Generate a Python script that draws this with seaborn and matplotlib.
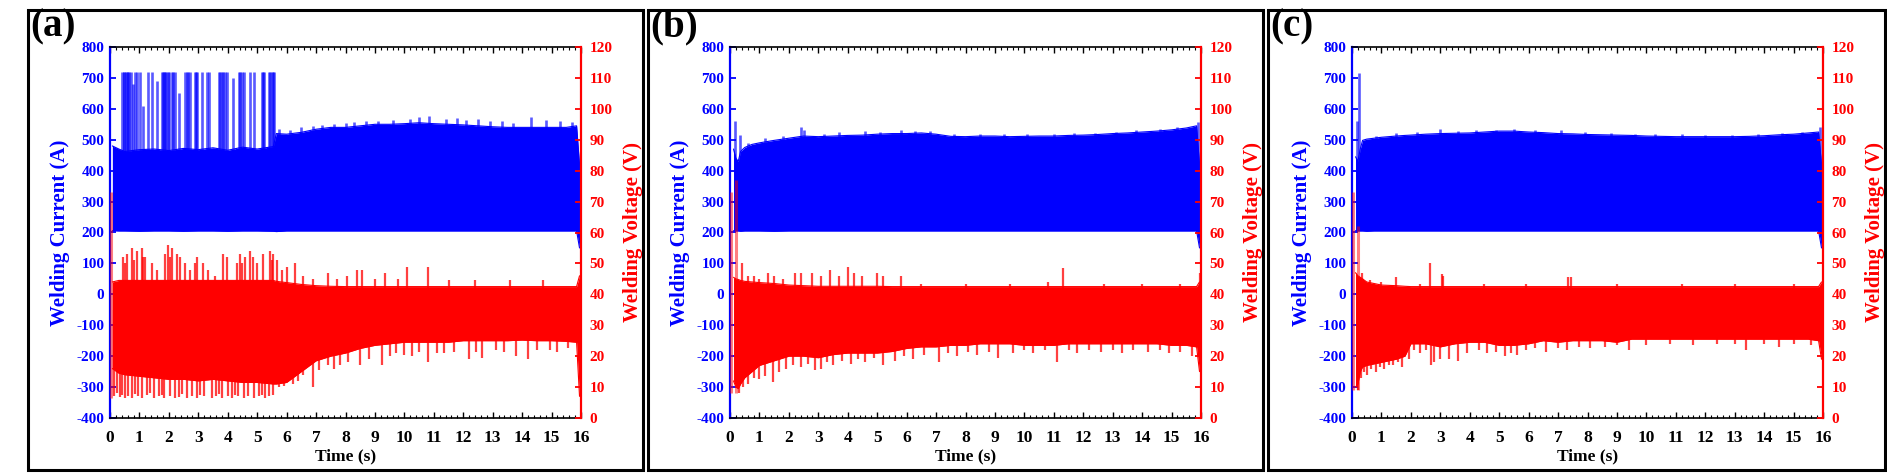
import numpy as np
import matplotlib
matplotlib.use("Agg")
import matplotlib.pyplot as plt
import seaborn as sns
from matplotlib.ticker import MultipleLocator
from matplotlib.patches import Rectangle

# ---------------- data ----------------
# envelope knots (time in s), current in A, voltage in V
a_time = [0.08, 0.3, 0.5, 1.0, 1.5, 2.0, 2.5, 3.0, 3.5, 4.0, 4.5, 5.0, 5.55, 5.65, 6.0,
          6.5, 7.0, 7.5, 8.0, 8.5, 9.0, 9.5, 10.0, 10.5, 11.0, 11.5, 12.0, 12.5, 13.0, 13.5,
          14.0, 14.5, 15.0, 15.5, 15.85, 15.95]
a_cur_hi = [480, 470, 462, 468, 470, 465, 472, 468, 474, 466, 476, 470, 478, 520, 518,
            524, 534, 540, 540, 545, 550, 550, 552, 555, 552, 550, 548, 545, 542, 540,
            540, 540, 540, 540, 545, 420]
a_cur_lo = [206, 205, 205, 204, 205, 205, 204, 205, 205, 204, 205, 205, 204, 203, 205,
            205, 205, 205, 205, 205, 205, 205, 205, 205, 205, 205, 205, 205, 205, 205,
            205, 205, 205, 205, 205, 150]
a_volt_hi = [44.0, 44.5, 44.5, 44.5, 44.5, 44.5, 44.5, 44.5, 44.5, 44.5, 44.5, 44.5, 44.5, 44.2, 43.8,
             43.2, 42.8, 42.6, 42.5, 42.5, 42.5, 42.5, 42.5, 42.5, 42.5, 42.5, 42.5, 42.5, 42.5, 42.5,
             42.5, 42.5, 42.5, 42.5, 42.5, 46.0]
a_volt_lo = [16.0, 14.5, 14.0, 13.5, 13.0, 12.5, 12.5, 12.0, 12.5, 12.0, 11.5, 11.5, 11.0, 11.0, 11.5,
             15.0, 18.5, 20.0, 21.0, 22.5, 23.5, 24.0, 24.5, 24.5, 24.5, 24.5, 25.0, 25.0, 25.0, 25.0,
             25.2, 25.0, 25.0, 24.8, 24.5, 7.0]
a_cur_spk_t = [0.42, 0.46, 0.49, 0.53, 0.57, 0.62, 0.66, 0.72, 0.78, 0.85, 0.93, 1.02, 1.13,
               1.30, 1.42, 1.59, 1.76, 1.80, 1.83, 1.87, 1.90, 1.96, 2.02, 2.09, 2.15, 2.21,
               2.36, 2.55, 2.60, 2.66, 2.72, 2.89, 2.93, 2.97, 3.11, 3.31, 3.37, 3.71, 3.75,
               3.79, 3.85, 3.91, 3.96, 4.19, 4.39, 4.43, 4.47, 4.55, 4.76, 4.89, 5.15, 5.19,
               5.23, 5.40, 5.45, 5.49, 5.53, 5.57,
               5.75, 6.1, 6.5, 6.9, 7.2, 7.6, 8.0, 8.3, 8.7, 9.1, 9.6, 10.2, 10.5, 10.85, 11.4,
               11.8, 12.1, 12.5, 12.9, 13.3, 13.7, 14.3, 14.8, 15.3, 15.7]
a_cur_spk_v = [720, 720, 720, 720, 720, 720, 720, 720, 680, 720, 720, 720, 610,
               720, 720, 690, 720, 720, 720, 720, 720, 720, 720, 720, 720, 720,
               650, 720, 720, 720, 720, 720, 720, 720, 720, 720, 720, 720, 720,
               720, 720, 720, 720, 700, 720, 720, 720, 720, 720, 720, 720, 720,
               720, 720, 720, 720, 720, 720,
               535, 532, 540, 545, 548, 552, 553, 556, 560, 562, 565, 568, 572, 578, 568,
               570, 565, 566, 560, 562, 555, 572, 565, 560, 558]
a_vup_t = [0.45, 0.50, 0.57, 0.74, 0.80, 0.91, 1.08, 1.13, 1.19, 1.42, 1.59, 1.87, 1.98, 2.04,
           2.10, 2.26, 2.38, 2.55, 2.72, 2.89, 2.94, 3.17, 3.34, 3.57, 3.85, 3.96, 4.30, 4.42,
           4.50, 4.59, 4.76, 4.87, 4.98, 5.21, 5.43, 5.50, 5.55, 5.66, 5.83, 6.0, 6.3, 6.57,
           6.9, 7.42, 7.7, 8.04, 8.38, 8.55, 9.0, 9.34, 9.8, 10.1, 10.8, 11.5, 12.4, 13.6, 14.7]
a_vup_v = [52, 50, 53, 55, 51, 54, 55, 52, 52, 50, 48, 53, 56, 52,
           55, 53, 52, 50, 48, 50, 52, 50, 48, 46, 53, 52, 50, 53,
           50, 52, 54, 52, 50, 53, 54, 51, 53, 51, 48, 49, 50, 46,
           45, 47, 45, 46, 48, 48, 45, 47, 45, 49, 49, 44.5, 44.5, 44.5, 44.5]
a_vdn_t = [0.15, 0.25, 0.35, 0.42, 0.5, 0.62, 0.75, 0.85, 0.95, 1.1, 1.25, 1.35, 1.5, 1.65,
           1.75, 1.85, 2.05, 2.2, 2.35, 2.45, 2.6, 2.8, 2.95, 3.05, 3.2, 3.45, 3.6, 3.7, 3.8,
           4.0, 4.15, 4.25, 4.35, 4.55, 4.7, 4.9, 5.05, 5.15, 5.25, 5.4, 5.55, 5.75, 5.9,
           6.2, 6.4, 6.55, 6.9, 7.1, 7.4, 7.6, 7.8, 8.1, 8.5, 8.8, 9.25, 9.5, 9.7, 10.0,
           10.25, 10.5, 10.8, 11.1, 11.35, 11.7, 12.2, 12.45, 12.65, 13.1, 13.4, 13.8, 14.2,
           14.5, 14.95, 15.2, 15.55]
a_vdn_v = [7.0, 8.0, 6.8, 7.5, 6.5, 7.2, 6.6, 7.8, 7.0, 6.5, 7.3, 8.0, 6.6, 7.0,
           7.6, 6.5, 7.1, 6.6, 6.9, 7.8, 6.5, 7.0, 6.6, 7.5, 7.2, 6.5, 7.0, 7.8, 6.6,
           7.1, 6.5, 7.5, 7.0, 6.6, 7.2, 6.5, 7.0, 7.6, 6.6, 7.0, 7.5, 10.0, 10.5,
           11.0, 12.0, 14.0, 10.0, 15.5, 17.0, 16.0, 17.0, 18.0, 17.0, 19.0, 17.0, 20.0, 21.0, 20.5,
           20.0, 21.5, 18.0, 21.0, 21.0, 21.5, 19.0, 21.5, 19.5, 22.0, 21.5, 20.0, 19.0,
           22.0, 22.0, 21.5, 22.5]
a_v0_t = [0.05]
a_v0_lo = [6.5]
a_v0_hi = [73.0]

b_time = [0.12, 0.2, 0.28, 0.36, 0.5, 0.75, 1.0, 1.5, 2.0, 2.5, 3.0, 3.5, 4.0, 4.5, 5.0,
          5.5, 6.0, 6.5, 7.0, 7.5, 8.0, 8.5, 9.0, 9.5, 10.0, 10.5, 11.0, 11.5, 12.0, 12.5,
          13.0, 13.5, 14.0, 14.5, 15.0, 15.5, 15.85, 15.95]
b_cur_hi = [470, 440, 430, 462, 475, 485, 490, 498, 505, 512, 510, 512, 514, 515, 518,
            520, 520, 522, 518, 511, 510, 512, 512, 510, 511, 512, 512, 514, 515, 517,
            520, 522, 525, 528, 532, 538, 545, 420]
b_cur_lo = [206, 205, 205, 204, 205, 205, 205, 204, 205, 205, 205, 205, 205, 205, 205,
            205, 205, 205, 205, 205, 205, 205, 205, 205, 205, 205, 205, 205, 205, 205,
            205, 205, 205, 205, 205, 205, 205, 150]
b_volt_hi = [45.5, 45.0, 44.8, 44.5, 44.2, 44.0, 43.8, 43.5, 43.0, 42.8, 42.6, 42.6, 42.6, 42.6, 42.6,
             42.5, 42.5, 42.5, 42.5, 42.5, 42.5, 42.5, 42.5, 42.5, 42.5, 42.5, 42.5, 42.5, 42.5, 42.5,
             42.5, 42.5, 42.5, 42.5, 42.5, 42.5, 42.5, 44.0]
b_volt_lo = [12.0, 10.0, 9.5, 11.0, 13.0, 15.0, 17.0, 18.5, 20.0, 20.0, 19.5, 20.5, 21.0, 21.0, 21.0,
             21.5, 22.5, 23.0, 23.0, 23.5, 23.5, 24.0, 24.0, 24.0, 23.5, 23.5, 23.5, 24.0, 24.0, 24.0,
             24.0, 24.0, 24.0, 24.0, 23.5, 23.5, 23.0, 15.0]
b_cur_spk_t = [0.17, 0.33, 0.6, 1.2, 1.8, 2.4, 2.5, 3.2, 3.7, 4.6, 5.1, 5.8, 6.3, 6.8, 7.6,
               8.5, 9.3, 10.1, 11.0, 11.7, 12.4, 13.1, 13.8, 14.6, 15.2, 15.9]
b_cur_spk_v = [560, 515, 490, 505, 512, 540, 530, 520, 525, 528, 526, 530, 528, 528, 518,
               520, 520, 518, 520, 522, 522, 526, 530, 535, 540, 558]
b_vup_t = [0.4, 0.6, 0.8, 1.0, 1.3, 1.5, 1.8, 2.2, 2.4, 2.8, 3.1, 3.4, 3.7, 4.0, 4.2, 4.5,
           5.0, 5.2, 5.8, 6.5, 8.0, 9.5, 10.8, 11.3, 12.7, 14.0, 15.3, 15.95]
b_vup_v = [50, 46, 46, 45, 47, 46, 45, 47, 47, 47, 46, 48, 46, 49, 47, 46,
           47, 46, 46, 43.5, 43.5, 43.5, 44, 48.5, 43.5, 43.5, 43.5, 47]
b_vdn_t = [0.3, 0.45, 0.6, 0.8, 1.0, 1.2, 1.45, 1.65, 1.9, 2.15, 2.4, 2.65, 2.9, 3.1, 3.3,
           3.5, 3.8, 4.1, 4.35, 4.6, 4.9, 5.2, 5.6, 5.9, 6.2, 6.6, 7.1, 7.4, 7.7, 8.1, 8.4,
           8.8, 9.1, 9.6, 10.0, 10.3, 10.7, 11.1, 11.5, 11.8, 12.2, 12.6, 13.0, 13.3, 13.7,
           14.2, 14.6, 14.9, 15.3, 15.7]
b_vdn_v = [8, 10, 11, 13, 12.5, 13.5, 11.5, 15, 16, 17, 16.5, 17.5, 15.5, 16, 18,
           17, 18.5, 17.5, 19, 18, 19.5, 17, 18.5, 20, 19, 20.5, 18, 21, 20, 21.5, 20.5,
           21.5, 19.5, 21, 22, 21, 22, 18, 22, 21, 22, 21.5, 22, 21, 22,
           21.5, 22, 21, 21.5, 20]
b_v0_t = [0.05, 0.21]
b_v0_lo = [8.0, 8.0]
b_v0_hi = [73.0, 77.0]

c_time = [0.12, 0.2, 0.28, 0.36, 0.5, 0.75, 1.0, 1.5, 1.8, 2.0, 2.5, 3.0, 3.5, 4.0, 4.5,
          5.0, 5.5, 6.0, 6.5, 7.0, 7.5, 8.0, 8.5, 9.0, 9.5, 10.0, 10.5, 11.0, 11.5, 12.0,
          12.5, 13.0, 13.5, 14.0, 14.5, 15.0, 15.5, 15.85, 15.95]
c_cur_hi = [445, 430, 470, 498, 502, 505, 508, 512, 514, 515, 518, 520, 521, 522, 525,
            528, 528, 525, 523, 520, 519, 517, 516, 515, 514, 512, 511, 510, 510, 510,
            510, 510, 511, 513, 516, 518, 522, 525, 420]
c_cur_lo = [206, 205, 205, 205, 204, 205, 205, 205, 205, 205, 205, 205, 205, 205, 205,
            205, 205, 205, 205, 205, 205, 205, 205, 205, 205, 205, 205, 205, 205, 205,
            205, 205, 205, 205, 205, 205, 205, 205, 150]
c_volt_hi = [47.0, 46.0, 45.5, 45.0, 44.0, 43.5, 43.0, 42.8, 42.6, 42.5, 42.5, 42.5, 42.5, 42.5, 42.5,
             42.5, 42.5, 42.5, 42.5, 42.5, 42.5, 42.5, 42.5, 42.5, 42.5, 42.5, 42.5, 42.5, 42.5, 42.5,
             42.5, 42.5, 42.5, 42.5, 42.5, 42.5, 42.5, 42.5, 44.0]
c_volt_lo = [10.0, 11.0, 15.0, 16.5, 17.0, 17.5, 18.0, 19.0, 20.0, 24.0, 24.0, 23.0, 24.0, 24.5, 24.5,
             23.5, 23.5, 24.0, 25.0, 24.5, 25.0, 25.0, 25.0, 24.5, 25.5, 25.5, 25.5, 25.5, 25.5, 25.5,
             25.5, 25.5, 25.5, 25.5, 25.5, 25.5, 25.5, 25.0, 19.0]
c_cur_spk_t = [0.16, 0.24, 0.8, 1.5, 2.2, 3.0, 3.6, 4.2, 4.9, 5.5, 6.2, 7.1, 7.9, 8.8,
               9.6, 10.3, 11.2, 12.0, 12.9, 13.8, 14.6, 15.3, 15.9]
c_cur_spk_v = [560, 715, 512, 522, 524, 535, 528, 530, 532, 535, 530, 530, 524, 522,
               520, 520, 518, 516, 516, 518, 522, 526, 540]
c_vup_t = [0.35, 0.6, 1.0, 1.5, 2.3, 2.65, 3.05, 3.1, 4.5, 5.9, 7.35, 7.45, 9.0, 11.2, 13.0, 15.0]
c_vup_v = [47, 44.5, 44, 45.5, 43.5, 50, 46.5, 46, 43.5, 43.5, 45.5, 45.5, 43.5, 43.5, 43.5, 43.5]
c_vdn_t = [0.2, 0.3, 0.4, 0.5, 0.65, 0.8, 0.95, 1.1, 1.25, 1.4, 1.55, 1.7, 1.95, 2.1, 2.3,
           2.5, 2.7, 2.8, 3.0, 3.3, 3.6, 3.9, 4.3, 4.6, 4.9, 5.2, 5.4, 5.6, 5.9, 6.2, 6.6,
           7.0, 7.3, 7.7, 8.1, 8.6, 9.0, 9.4, 10.0, 10.8, 11.6, 12.4, 13.0, 13.4, 14.0,
           14.5, 15.0, 15.6]
c_vdn_v = [9, 13, 15, 14, 16, 15, 16.5, 16, 17, 17, 18, 16.5, 19, 22, 21,
           22, 17, 18, 19, 19, 18.5, 21, 22, 21, 21.5, 20, 21, 20.5, 22, 22.5, 21.5,
           22.5, 22, 23, 22.5, 23, 23.5, 22, 23.5, 24, 23.5, 24, 24, 22, 24,
           23, 24, 23.5]
c_v0_t = [0.05, 0.2]
c_v0_lo = [9.0, 9.0]
c_v0_hi = [73.0, 62.0]

panel_labels = ["(a)", "(b)", "(c)"]
time_ticks = list(range(0, 17))
current_ticks = list(range(-400, 801, 100))
voltage_ticks = list(range(0, 121, 10))

# ---------------- style ----------------
sns.set_style("ticks")
plt.rcParams["font.family"] = ["Liberation Serif", "DejaVu Serif"]
plt.rcParams["font.weight"] = "bold"
plt.rcParams["axes.labelweight"] = "bold"
plt.rcParams["axes.unicode_minus"] = False

BLUE = "#0000FF"
RED = "#FF0000"

W, H = 1887, 474
fig = plt.figure(figsize=(W / 100, H / 100), dpi=100)

axes_left_px = [110, 730, 1352]
box_px = [(28, 643), (648, 1263), (1268, 1885)]
ax_w_px = 471
ax_top_px, ax_bot_px = 47, 418

panels = [
    (a_time, a_cur_hi, a_cur_lo, a_volt_hi, a_volt_lo, a_cur_spk_t, a_cur_spk_v,
     a_vup_t, a_vup_v, a_vdn_t, a_vdn_v, a_v0_t, a_v0_lo, a_v0_hi),
    (b_time, b_cur_hi, b_cur_lo, b_volt_hi, b_volt_lo, b_cur_spk_t, b_cur_spk_v,
     b_vup_t, b_vup_v, b_vdn_t, b_vdn_v, b_v0_t, b_v0_lo, b_v0_hi),
    (c_time, c_cur_hi, c_cur_lo, c_volt_hi, c_volt_lo, c_cur_spk_t, c_cur_spk_v,
     c_vup_t, c_vup_v, c_vdn_t, c_vdn_v, c_v0_t, c_v0_lo, c_v0_hi),
]

for i, p in enumerate(panels):
    (t, chi, clo, vhi, vlo, cst, csv, vut, vuv, vdt, vdv, v0t, v0lo, v0hi) = p
    left = axes_left_px[i] / W
    bottom = (H - ax_bot_px) / H
    ax = fig.add_axes([left, bottom, ax_w_px / W, (ax_bot_px - ax_top_px) / H])
    ax.set_facecolor("white")

    # current band (left axis)
    ax.fill_between(t, clo, chi, color=BLUE, lw=0)
    sns.lineplot(x=t, y=chi, ax=ax, color=BLUE, lw=0.8, estimator=None, legend=False)
    sns.lineplot(x=t, y=clo, ax=ax, color=BLUE, lw=0.8, estimator=None, legend=False)
    ax.vlines(cst, 300, csv, colors=BLUE, lw=1.9, alpha=0.65)

    ax.set_xlim(0, 16)
    ax.set_ylim(-400, 800)
    ax.set_xticks(time_ticks)
    ax.set_yticks(current_ticks)
    ax.xaxis.set_minor_locator(MultipleLocator(0.2))
    ax.tick_params(axis="x", which="major", direction="in", top=True, bottom=True,
                   length=4, width=1.0, colors="black", labelsize=12.5, pad=9)
    ax.tick_params(axis="x", which="minor", direction="in", top=True, bottom=True,
                   length=2, width=0.8, colors="black")
    ax.tick_params(axis="y", which="major", direction="in", left=True, right=False,
                   length=4, width=1.3, colors=BLUE, labelsize=11, pad=4)
    for side in ["top", "bottom"]:
        ax.spines[side].set_color("black")
        ax.spines[side].set_linewidth(1.2)
    ax.spines["left"].set_color(BLUE)
    ax.spines["left"].set_linewidth(1.6)
    ax.spines["right"].set_visible(False)
    ax.set_xlabel("Time (s)", fontsize=12.5, color="black")
    ax.xaxis.set_label_coords(0.5, -0.082)
    ax.xaxis.label.set_va("top")
    ax.set_ylabel("Welding Current (A)", fontsize=15, color=BLUE)
    ax.yaxis.set_label_coords(-0.085, 0.5)

    # voltage band (right axis)
    ax2 = ax.twinx()
    ax2.fill_between(t, vlo, vhi, color=RED, lw=0)
    sns.lineplot(x=t, y=vhi, ax=ax2, color=RED, lw=0.8, estimator=None, legend=False)
    sns.lineplot(x=t, y=vlo, ax=ax2, color=RED, lw=0.8, estimator=None, legend=False)
    ax2.vlines(vut, 35, vuv, colors=RED, lw=1.6, alpha=0.75)
    ax2.vlines(vdt, vdv, 35, colors=RED, lw=1.6, alpha=0.75)
    ax2.vlines(v0t, v0lo, v0hi, colors=RED, lw=2.2, alpha=0.5)
    ax2.set_ylim(0, 120)
    ax2.set_yticks(voltage_ticks)
    ax2.tick_params(axis="y", which="major", direction="in", left=False, right=True,
                    length=4, width=1.3, colors=RED, labelsize=11, pad=6)
    for side in ["top", "bottom", "left"]:
        ax2.spines[side].set_visible(False)
    ax2.spines["right"].set_color(RED)
    ax2.spines["right"].set_linewidth(1.6)
    ax2.set_ylabel("Welding Voltage (V)", fontsize=15, color=RED)
    ax2.yaxis.set_label_coords(1.09, 0.5)
    ax2.yaxis.label.set_va("top")

    # panel frame and label
    x0, x1 = box_px[i]
    fig.add_artist(Rectangle((x0 / W, 4 / H), (x1 - x0) / W, 460 / H,
                             transform=fig.transFigure, fill=False,
                             ec="black", lw=2.2))
    fig.text((x0 + 2) / W, 1 - 8 / H, panel_labels[i], fontsize=28,
             fontweight="bold", ha="left", va="top", color="black")

fig.savefig("out.png", dpi=100, facecolor="white")
